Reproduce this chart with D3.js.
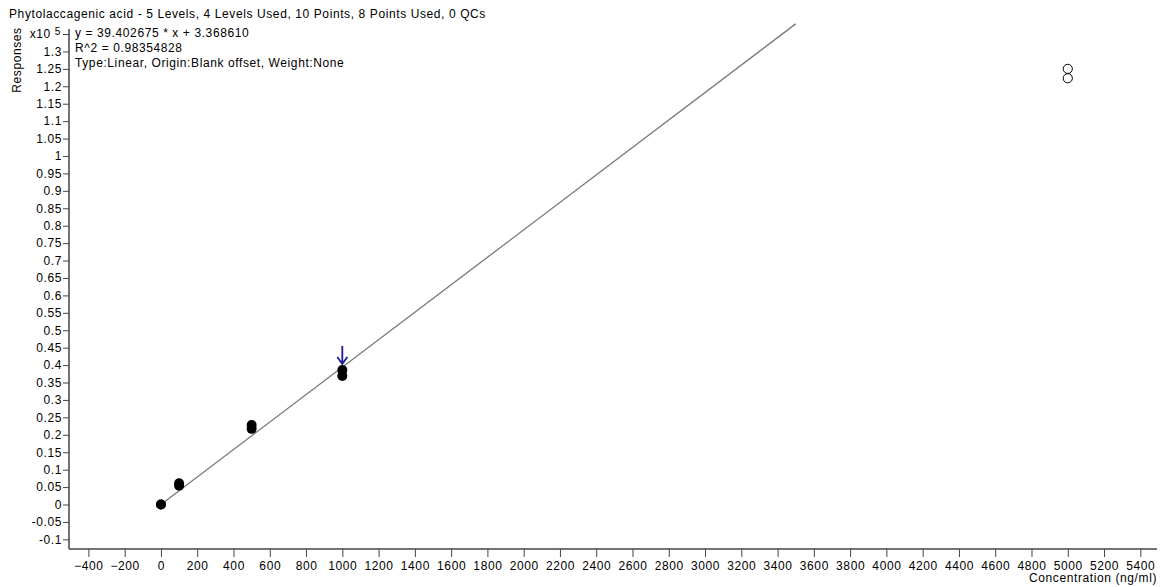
<!DOCTYPE html>
<html>
<head>
<meta charset="utf-8">
<script src="https://cdn.jsdelivr.net/npm/d3@7"></script>
<style>
  html, body { margin: 0; padding: 0; background: #fff; }
  svg text { font-family: "Liberation Sans", Arial, sans-serif; fill: #000; letter-spacing: 0.6px; }
</style>
</head>
<body>
<svg id="chart" width="1162" height="587"></svg>
<script>
// Calibration data: Phytolaccagenic acid
const title = "Phytolaccagenic acid - 5 Levels, 4 Levels Used, 10 Points, 8 Points Used, 0 QCs";
const fitLines = [
  "y = 39.402675 * x  + 3.368610",
  "R^2 = 0.98354828",
  "Type:Linear, Origin:Blank offset, Weight:None"
];
const slope = 39.402675;
const intercept = 3.368610;
const fitRange = [0, 3500];

// Calibration points (concentration ng/ml, response)
const concentrations = [0, 0, 100, 100, 500, 500, 1000, 1000, 5000, 5000];
const responses = [0, 0, 6100, 5400, 22800, 21700, 38600, 36900, 125000, 122300];
const used = [true, true, true, true, true, true, true, true, false, false];
const selectedConc = 1000;   // point flagged with the arrow

const xTicks = d3.range(-400, 5401, 200);
const yTicks = d3.range(-10, 136, 5).map(v => v * 1000);  // -0.1 .. 1.35 (x10^5)
const yExponent = 5;

const svg = d3.select("#chart");

const x = d3.scaleLinear().domain([-507, 5492]).range([69, 1157]);
const y = d3.scaleLinear().domain([-12770, 136440]).range([549, 29]);

// Axes
const xAxis = d3.axisBottom(x).tickValues(xTicks).tickSize(8).tickPadding(4)
  .tickFormat(d3.format("d"));
const gx = svg.append("g").attr("transform", `translate(0,${y.range()[0]})`).call(xAxis);
gx.select(".domain").attr("d", `M${x.range()[0]},0H${x.range()[1]}`).attr("stroke", "#444").attr("stroke-width", 1.5);
gx.selectAll(".tick line").attr("stroke", "#444");
gx.selectAll(".tick text").attr("font-size", 12).attr("font-family", "Liberation Sans, Arial, sans-serif");

const yFmt = v => {
  if (v === yTicks[yTicks.length - 1]) return "";
  return String(+(v / Math.pow(10, yExponent)).toFixed(2));
};
const yAxis = d3.axisLeft(y).tickValues(yTicks).tickSize(6).tickPadding(1).tickFormat(yFmt);
const gy = svg.append("g").attr("transform", `translate(${x.range()[0]},0)`).call(yAxis);
gy.select(".domain").attr("d", `M0,${y.range()[0]}V${y.range()[1]}`).attr("stroke", "#444").attr("stroke-width", 1.5);
gy.selectAll(".tick line").attr("stroke", "#444");
gy.selectAll(".tick text").attr("font-size", 12).attr("font-family", "Liberation Sans, Arial, sans-serif");

// Exponent label on the top tick
const topY = y(yTicks[yTicks.length - 1]);
const expLabel = svg.append("text").attr("x", 61).attr("y", topY + 4).attr("text-anchor", "end")
  .attr("font-size", 12);
expLabel.append("tspan").text("x10 ");
expLabel.append("tspan").attr("dy", -3).attr("font-size", 10).text(yExponent);

// Axis titles
svg.append("text").attr("transform", `translate(21,60) rotate(-90)`)
  .attr("text-anchor", "middle").attr("font-size", 12).text("Responses");
svg.append("text").attr("x", 1157).attr("y", 582).attr("text-anchor", "end")
  .attr("font-size", 12).text("Concentration (ng/ml)");

// Header text
svg.append("text").attr("x", 9).attr("y", 18).attr("font-size", 12).text(title);
fitLines.forEach((t, i) => {
  svg.append("text").attr("x", 75).attr("y", 37 + i * 15).attr("font-size", 12).text(t);
});

// Regression line
svg.append("line")
  .attr("x1", x(fitRange[0])).attr("y1", y(slope * fitRange[0] + intercept))
  .attr("x2", x(fitRange[1])).attr("y2", y(slope * fitRange[1] + intercept))
  .attr("stroke", "#777").attr("stroke-width", 1.3);

// Points
const pts = concentrations.map((c, i) => ({ c, r: responses[i], used: used[i] }));
svg.append("g").selectAll("ellipse").data(pts).join("ellipse")
  .attr("cx", d => x(d.c)).attr("cy", d => y(d.r))
  .attr("rx", d => d.used ? 5 : 4.6).attr("ry", d => d.used ? 5 : 4.6)
  .attr("fill", d => d.used ? "#000" : "none")
  .attr("stroke", "#000").attr("stroke-width", d => d.used ? 0 : 1);

// Arrow over the selected level
const selTop = d3.max(pts.filter(d => d.c === selectedConc), d => d.r);
const ax = x(selectedConc), tip = y(selTop) - 6;
svg.append("path")
  .attr("d", `M${ax},${tip - 18}V${tip}M${ax - 5},${tip - 7}L${ax},${tip}L${ax + 5},${tip - 7}`)
  .attr("fill", "none").attr("stroke", "#1c1c96").attr("stroke-width", 1.8);
</script>
</body>
</html>
